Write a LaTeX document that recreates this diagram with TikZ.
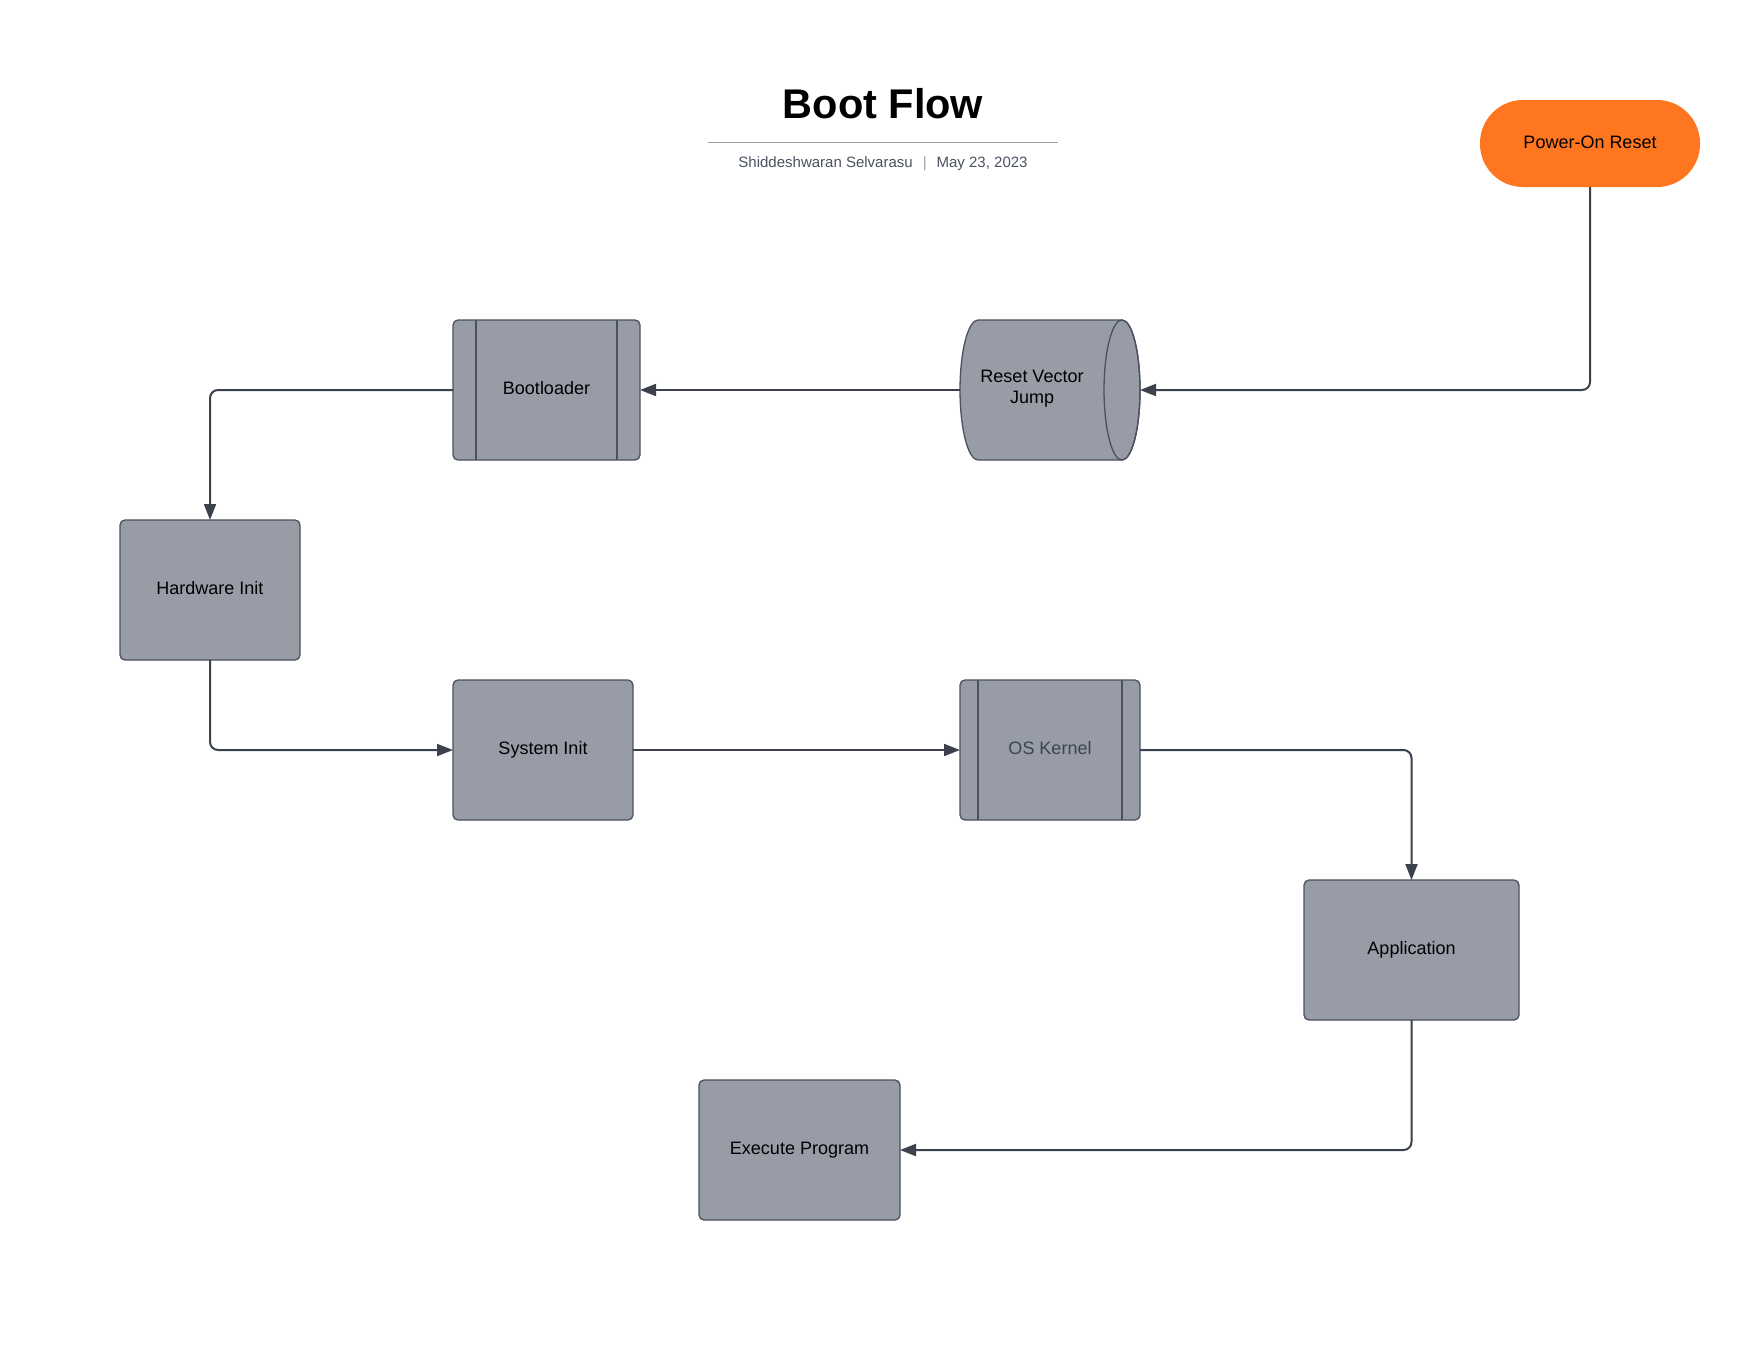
\documentclass[tikz,border=0pt]{standalone}
\usepackage{fontspec}
\setmainfont{Liberation Sans}
\usetikzlibrary{arrows.meta,calc}
\definecolor{boxfill}{HTML}{979CA7}
\definecolor{boxline}{HTML}{4B5160}
\definecolor{conn}{HTML}{3B414D}
\definecolor{orangefill}{HTML}{FF7621}
\definecolor{subtxt}{HTML}{4A5160}
\definecolor{rulegray}{HTML}{9AA0A8}
\definecolor{ostxt}{HTML}{3D4451}
\begin{document}
\begin{tikzpicture}[x=1pt,y=-1pt,
  proc/.style={draw=boxline, line width=1.3pt, fill=boxfill, rounded corners=5pt,
    inner sep=0pt, outer sep=0pt, minimum height=140pt,
    font=\fontsize{18}{21}\selectfont, text height=14.4pt, text depth=4.5pt},
  sideline/.style={draw=boxline, line width=1.3pt},
  flow/.style={draw=conn, line width=2pt, rounded corners=8pt,
    -{Triangle[length=16pt,width=12pt]}},
]
\fill[white] (0,0) rectangle (1760,1360);
\useasboundingbox (0,0) rectangle (1760,1360);

% title block
\node[font=\fontsize{41.5}{48}\selectfont\bfseries] (title) at (883,104) {Boot Flow};
\draw[rulegray, line width=1.5pt] (708,142.5) -- (1058,142.5);
\node[anchor=base, font=\fontsize{15}{18}\selectfont, text=subtxt] (sub) at (883,167.5)
  {Shiddeshwaran Selvarasu\hspace{10pt}\textcolor{rulegray}{|}\hspace{10pt}May 23, 2023};

% start
\node[fill=orangefill, rounded corners=43pt, minimum width=220pt, minimum height=87pt,
  inner sep=0pt, outer sep=0pt, font=\fontsize{18}{21}\selectfont,
  text height=14.4pt, text depth=4.5pt] (pwr) at (1590,143.5) {Power-On Reset};

% cylinder
\node[minimum width=180pt, minimum height=140pt, inner sep=0pt, outer sep=0pt] (rvj) at (1050,390) {};
\draw[draw=boxline, line width=1.3pt, fill=boxfill]
  (978,320) -- (1122,320) arc[start angle=90, end angle=-90, x radius=18pt, y radius=70pt]
  -- (978,460) arc[start angle=270, end angle=90, x radius=18pt, y radius=70pt] -- cycle;
\draw[sideline] (1122,390) ellipse [x radius=18pt, y radius=70pt];
\node[align=center, font=\fontsize{18}{21.5}\selectfont, inner sep=0pt] (rvjtxt) at (1032,388.5) {Reset Vector\\Jump};

% process boxes
\node[proc, minimum width=187pt] (boot) at (546.5,390) {Bootloader};
\draw[sideline] ($(boot.north west)+(23,0)$) -- ($(boot.south west)+(23,0)$);
\draw[sideline] ($(boot.north east)+(-23,0)$) -- ($(boot.south east)+(-23,0)$);

\node[proc, minimum width=180pt] (hw) at (210,590) {Hardware Init};
\node[proc, minimum width=180pt] (sys) at (543,750) {System Init};

\node[proc, minimum width=180pt, text=ostxt] (os) at (1050,750) {OS Kernel};
\draw[sideline] ($(os.north west)+(18,0)$) -- ($(os.south west)+(18,0)$);
\draw[sideline] ($(os.north east)+(-18,0)$) -- ($(os.south east)+(-18,0)$);

\node[proc, minimum width=215pt] (app) at (1411.5,950) {Application};
\node[proc, minimum width=201pt] (exe) at (799.5,1150) {Execute Program};

% connectors
\draw[flow] (pwr.south) |- (rvj.east);
\draw[flow] (rvj.west) -- (boot.east);
\draw[flow] (boot.west) -| (hw.north);
\draw[flow] (hw.south) |- (sys.west);
\draw[flow] (sys.east) -- (os.west);
\draw[flow] (os.east) -| (app.north);
\draw[flow] (app.south) |- (exe.east);
\end{tikzpicture}
\end{document}
